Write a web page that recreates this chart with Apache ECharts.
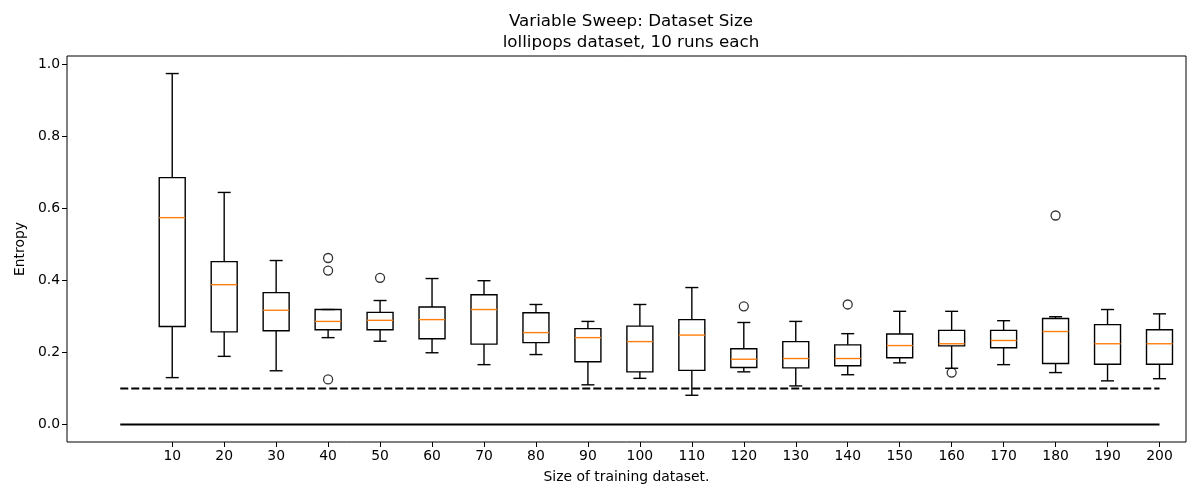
<!DOCTYPE html>
<html>
<head>
<meta charset="utf-8">
<script src="https://cdn.jsdelivr.net/npm/echarts@6/dist/echarts.min.js"></script>
<style>html,body{margin:0;padding:0;background:#fff}#c{width:1200px;height:500px}</style>
</head>
<body>
<div id="c"></div>
<script>
const sizes   = [10,20,30,40,50,60,70,80,90,100,110,120,130,140,150,160,170,180,190,200];
const mins    = [0.130,0.189,0.149,0.241,0.231,0.199,0.166,0.194,0.110,0.128,0.081,0.146,0.107,0.138,0.171,0.156,0.166,0.144,0.121,0.127];
const q1s     = [0.272,0.257,0.260,0.263,0.263,0.238,0.223,0.227,0.174,0.146,0.150,0.158,0.157,0.163,0.185,0.218,0.213,0.169,0.167,0.167];
const medians = [0.574,0.388,0.317,0.286,0.289,0.291,0.319,0.255,0.241,0.230,0.248,0.181,0.183,0.183,0.219,0.224,0.233,0.258,0.224,0.224];
const q3s     = [0.685,0.452,0.366,0.319,0.311,0.326,0.360,0.310,0.266,0.273,0.291,0.210,0.230,0.221,0.251,0.261,0.261,0.294,0.277,0.263];
const maxs    = [0.974,0.644,0.455,0.319,0.344,0.405,0.399,0.333,0.286,0.333,0.380,0.283,0.286,0.252,0.314,0.314,0.288,0.299,0.319,0.307];
const outliers = [[40,0.462],[40,0.427],[40,0.125],[50,0.407],[120,0.328],[140,0.333],[160,0.144],[180,0.580]];
const dashedLine = [[0,0.1],[200,0.1]];
const solidLine  = [[0,0],[200,0]];
const yTicks = [0,0.2,0.4,0.6,0.8,1.0];

const boxData = sizes.map((s,i)=>[s, mins[i], q1s[i], medians[i], q3s[i], maxs[i]]);
const BOXW = 5, CAPW = 2.5;

const chart = echarts.init(document.getElementById('c'), null, {renderer:'canvas'});
const font = 'DejaVu Sans';
chart.setOption({
  animation:false,
  backgroundColor:'#fff',
  title:{
    text:'Variable Sweep: Dataset Size\nlollipops dataset, 10 runs each',
    left:626, top:6, textAlign:'center',
    textStyle:{fontFamily:font, fontSize:16.7, fontWeight:'normal', color:'#000', lineHeight:21}
  },
  grid:{left:67, right:14, top:56, bottom:58, show:true, borderColor:'#000', borderWidth:1, backgroundColor:'transparent'},
  xAxis:{
    type:'value', min:-10.25, max:205.1,
    name:'Size of training dataset.', nameLocation:'middle', nameGap:28,
    nameTextStyle:{fontFamily:font, fontSize:13.9, color:'#000'},
    axisLine:{show:false, onZero:false},
    splitLine:{show:false},
    axisTick:{show:true, length:5, lineStyle:{color:'#000'}, customValues:sizes},
    axisLabel:{fontFamily:font, fontSize:13.9, color:'#000', margin:7, customValues:sizes, formatter:v=>String(v)}
  },
  yAxis:{
    type:'value', min:-0.0487, max:1.0227,
    name:'Entropy', nameLocation:'middle', nameGap:33,
    nameTextStyle:{fontFamily:font, fontSize:13.9, color:'#000'},
    axisLine:{show:false, onZero:false},
    splitLine:{show:false},
    axisTick:{show:true, length:5, lineStyle:{color:'#000'}, customValues:yTicks},
    axisLabel:{fontFamily:font, fontSize:13.9, color:'#000', margin:7, customValues:yTicks, formatter:v=>v.toFixed(1)}
  },
  series:[
    {
      type:'line', data:dashedLine, symbol:'none',
      lineStyle:{color:'#000', width:2, type:[8,3]}, z:1
    },
    {
      type:'line', data:solidLine, symbol:'none',
      lineStyle:{color:'#000', width:2}, z:1
    },
    {
      type:'custom', data:boxData, z:3,
      renderItem:function(params, api){
        const x = api.value(0);
        const mn = api.coord([x, api.value(1)]);
        const q1 = api.coord([x, api.value(2)]);
        const md = api.coord([x, api.value(3)]);
        const q3 = api.coord([x, api.value(4)]);
        const mx = api.coord([x, api.value(5)]);
        const xl = api.coord([x-BOXW/2, 0])[0];
        const xr = api.coord([x+BOXW/2, 0])[0];
        const cl = api.coord([x-CAPW/2, 0])[0];
        const cr = api.coord([x+CAPW/2, 0])[0];
        const cx = mn[0];
        const st = {stroke:'#000', lineWidth:1.4, fill:null};
        return {type:'group', children:[
          {type:'line', shape:{x1:cx, y1:q3[1], x2:cx, y2:mx[1]}, style:st},
          {type:'line', shape:{x1:cx, y1:q1[1], x2:cx, y2:mn[1]}, style:st},
          {type:'line', shape:{x1:cl, y1:mx[1], x2:cr, y2:mx[1]}, style:st},
          {type:'line', shape:{x1:cl, y1:mn[1], x2:cr, y2:mn[1]}, style:st},
          {type:'rect', shape:{x:xl, y:q3[1], width:xr-xl, height:q1[1]-q3[1]}, style:{stroke:'#000', lineWidth:1.4, fill:'rgba(0,0,0,0)'}},
          {type:'line', shape:{x1:xl, y1:md[1], x2:xr, y2:md[1]}, style:{stroke:'#ff7f0e', lineWidth:1.4}}
        ]};
      }
    },
    {
      type:'scatter', data:outliers, symbol:'circle', symbolSize:9, z:4,
      itemStyle:{color:'rgba(0,0,0,0)', borderColor:'#000', borderWidth:1.3}
    }
  ]
});
</script>
</body>
</html>
